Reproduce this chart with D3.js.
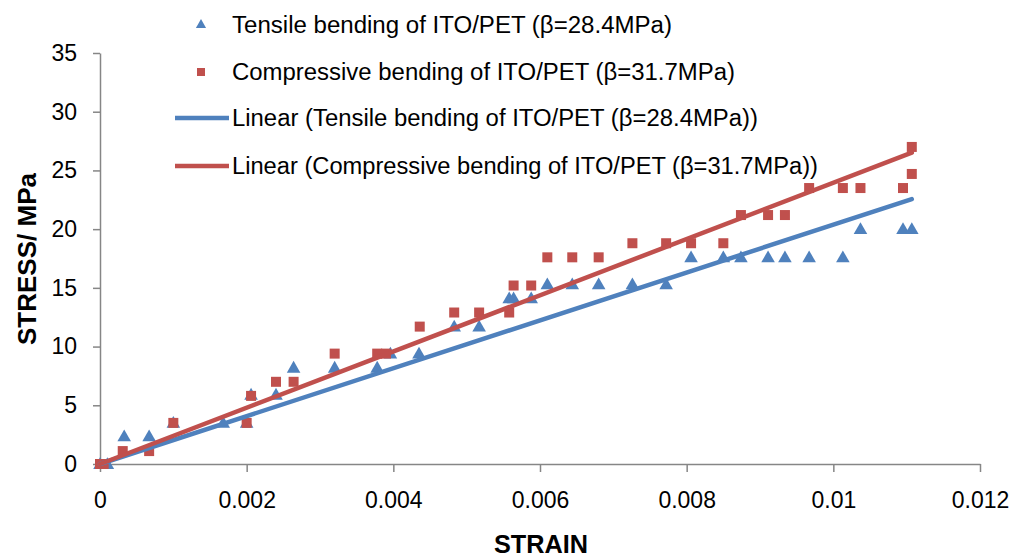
<!DOCTYPE html>
<html>
<head>
<meta charset="utf-8">
<script src="https://d3js.org/d3.v7.min.js"></script>
<style>
  body { margin: 0; background: #fff; }
  svg { display: block; }
  text { font-family: "Liberation Sans", Arial, sans-serif; fill: #000; }
</style>
</head>
<body>
<div id="content"></div>
<script>
// data
var tensileStrain = [0, 0.0001, 0.00033, 0.00067, 0.001, 0.00168, 0.002, 0.00206, 0.0024, 0.00264, 0.0032, 0.00378, 0.00396, 0.00435, 0.00483, 0.00517, 0.00558, 0.00564, 0.00588, 0.0061, 0.00644, 0.0068, 0.00726, 0.00772, 0.00806, 0.0085, 0.00874, 0.00911, 0.00934, 0.00967, 0.01013, 0.01037, 0.01095, 0.01107];
var tensileStress = [0, 0, 2.35, 2.35, 3.5, 3.5, 3.5, 5.9, 5.9, 8.2, 8.2, 8.2, 9.4, 9.4, 11.7, 11.7, 14.1, 14.1, 14.1, 15.3, 15.3, 15.3, 15.3, 15.3, 17.6, 17.6, 17.6, 17.6, 17.6, 17.6, 17.6, 20.0, 20.0, 20.0];
var compStrain = [0, 0.00005, 0.00031, 0.00067, 0.001, 0.002, 0.00206, 0.0024, 0.00264, 0.0032, 0.00378, 0.0039, 0.00436, 0.00483, 0.00517, 0.00558, 0.00564, 0.00588, 0.0061, 0.00644, 0.0068, 0.00726, 0.00772, 0.00806, 0.0085, 0.00874, 0.00911, 0.00934, 0.00967, 0.01013, 0.01037, 0.01095, 0.01107, 0.01107];
var compStress = [0, 0, 1.1, 1.1, 3.5, 3.5, 5.8, 7.0, 7.0, 9.4, 9.4, 9.4, 11.7, 12.9, 12.9, 12.9, 15.2, 15.2, 17.6, 17.6, 17.6, 18.8, 18.8, 18.8, 18.8, 21.2, 21.2, 21.2, 23.5, 23.5, 23.5, 23.5, 24.7, 27.0];
var xTicks = [0, 0.002, 0.004, 0.006, 0.008, 0.01, 0.012];
var xTickLabels = ["0", "0.002", "0.004", "0.006", "0.008", "0.01", "0.012"];
var yTicks = [0, 5, 10, 15, 20, 25, 30, 35];
var legendLabels = [
  "Tensile bending of ITO/PET (\u03b2=28.4MPa)",
  "Compressive bending of ITO/PET (\u03b2=31.7MPa)",
  "Linear (Tensile bending of ITO/PET (\u03b2=28.4MPa))",
  "Linear (Compressive bending of ITO/PET (\u03b2=31.7MPa))"
];

var blue = '#4f81bd';
var red = '#c0504d';
var axisColor = '#868686';

var svg = d3.select("#content").append("svg")
    .attr("width", 1011)
    .attr("height", 559);

var x = d3.scaleLinear().domain([0, 0.012]).range([100, 980]);
var y = d3.scaleLinear().domain([0, 35]).range([464, 53]);

//axes
var xAxis = svg.append("g")
    .attr("transform", "translate(0," + y(0) + ")")
    .call(d3.axisBottom(x).tickValues(xTicks).tickSize(8).tickSizeOuter(0).tickPadding(20)
        .tickFormat(function(d, i){ return xTickLabels[i]; }));
var yAxis = svg.append("g")
    .attr("transform", "translate(" + x(0) + ",0)")
    .call(d3.axisLeft(y).tickValues(yTicks).tickSize(7).tickSizeOuter(0).tickPadding(16));

[xAxis, yAxis].forEach(function(a){
    a.selectAll("path, line").attr("stroke", axisColor).attr("stroke-width", 1.5);
    a.selectAll("text").style("font-size", "23px").attr("fill", "#000");
});

//linear fit through the origin (intercept fixed at 0)
function fit(xs, ys){
    var sxy = 0, sxx = 0;
    for (var i = 0; i < xs.length; i++){
        sxy += xs[i] * ys[i];
        sxx += xs[i] * xs[i];
    }
    return { slope: sxy / sxx, x0: d3.min(xs), x1: d3.max(xs) };
}

function drawTrend(f, color){
    svg.append("line")
        .attr("x1", x(f.x0)).attr("y1", y(f.slope * f.x0))
        .attr("x2", x(f.x1)).attr("y2", y(f.slope * f.x1))
        .attr("stroke", color).attr("stroke-width", 4.5).attr("stroke-linecap", "round");
}

var triangle = d3.symbol().type(d3.symbolTriangle).size(80);

//tensile points
svg.append("g").selectAll("path")
    .data(d3.zip(tensileStrain, tensileStress))
    .enter().append("path")
    .attr("d", triangle)
    .attr("transform", function(d){ return "translate(" + x(d[0]) + "," + (y(d[1]) + 1) + ")"; })
    .attr("fill", blue);

//compressive points
svg.append("g").selectAll("rect")
    .data(d3.zip(compStrain, compStress))
    .enter().append("rect")
    .attr("x", function(d){ return x(d[0]) - 5; })
    .attr("y", function(d){ return y(d[1]) - 5; })
    .attr("width", 10).attr("height", 10)
    .attr("fill", red);

drawTrend(fit(tensileStrain, tensileStress), blue);
drawTrend(fit(compStrain, compStress), red);

//legend
var legendY = [25, 72, 118, 166];
var legendW = [440, 503, 526, 586];
var legend = svg.append("g");
legend.append("path").attr("d", d3.symbol().type(d3.symbolTriangle).size(45))
    .attr("transform", "translate(201," + legendY[0] + ")").attr("fill", blue);
legend.append("rect").attr("x", 197).attr("y", legendY[1] - 4).attr("width", 8).attr("height", 8).attr("fill", red);
legend.append("line").attr("x1", 175).attr("x2", 229).attr("y1", legendY[2]).attr("y2", legendY[2])
    .attr("stroke", blue).attr("stroke-width", 4.5);
legend.append("line").attr("x1", 175).attr("x2", 229).attr("y1", legendY[3]).attr("y2", legendY[3])
    .attr("stroke", red).attr("stroke-width", 4.5);
legend.selectAll("text.lbl")
    .data(legendLabels)
    .enter().append("text")
    .attr("class", "lbl")
    .attr("x", 232)
    .attr("y", function(d, i){ return legendY[i] + 8; })
    .attr("textLength", function(d, i){ return legendW[i]; })
    .attr("lengthAdjust", "spacingAndGlyphs")
    .style("font-size", "23px")
    .text(function(d){ return d; });

//axis titles
svg.append("text")
    .attr("x", 541).attr("y", 553)
    .attr("text-anchor", "middle")
    .attr("textLength", 94).attr("lengthAdjust", "spacingAndGlyphs")
    .style("font-size", "26px").style("font-weight", "bold")
    .text("STRAIN");
svg.append("text")
    .attr("transform", "translate(36,259) rotate(-90)")
    .attr("text-anchor", "middle")
    .attr("textLength", 172).attr("lengthAdjust", "spacingAndGlyphs")
    .style("font-size", "26px").style("font-weight", "bold")
    .text("STRESS/ MPa");
</script>
</body>
</html>
